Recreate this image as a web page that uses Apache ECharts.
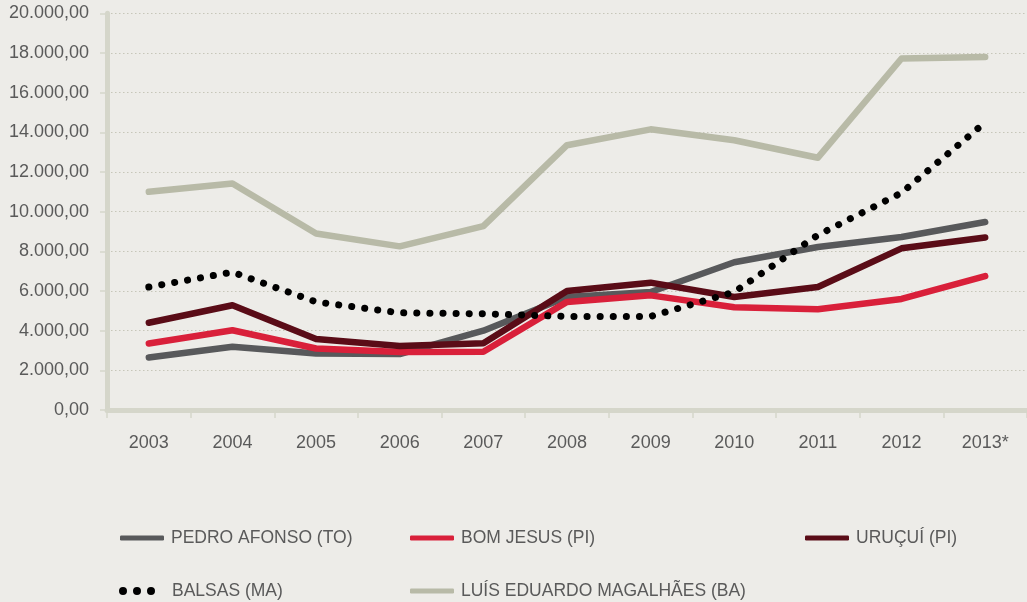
<!DOCTYPE html>
<html>
<head>
<meta charset="utf-8">
<script src="https://cdn.jsdelivr.net/npm/echarts@6/dist/echarts.min.js"></script>
<style>
html,body{margin:0;padding:0;background:#EDECE8;}
#chart{width:1027px;height:602px;}
</style>
</head>
<body>
<div id="chart"></div>
<script>
const categories = ['2003','2004','2005','2006','2007','2008','2009','2010','2011','2012','2013*'];
const pedroAfonso = [2650, 3190, 2850, 2820, 4000, 5700, 5950, 7450, 8220, 8720, 9480];
const bomJesus    = [3350, 4020, 3100, 2920, 2940, 5450, 5780, 5180, 5080, 5600, 6750];
const urucui      = [4400, 5280, 3580, 3230, 3360, 6000, 6420, 5700, 6200, 8150, 8700];
const balsas      = [6200, 6950, 5450, 4900, 4850, 4720, 4720, 5950, 8820, 10950, 14500];
const lem         = [11000, 11420, 8900, 8250, 9270, 13350, 14150, 13600, 12720, 17720, 17800];
const yTicks = { min: 0, max: 20000, interval: 2000 };

const seriesNames = ['PEDRO AFONSO (TO)','BOM JESUS (PI)','URUÇUÍ (PI)','BALSAS (MA)','LUÍS EDUARDO MAGALHÃES (BA)'];
const colors = ['#58595B','#D9203A','#5A0C17','#000000','#B8BAA7'];

function fmt(v){
  const s = Math.round(v).toString().replace(/\B(?=(\d{3})+(?!\d))/g,'.');
  return s + ',00';
}

const FONT = '"Liberation Sans", Arial, sans-serif';
const dotsPath = 'path://M0,4a4,4 0 1,0 8,0a4,4 0 1,0 -8,0Z M14,4a4,4 0 1,0 8,0a4,4 0 1,0 -8,0Z M28,4a4,4 0 1,0 8,0a4,4 0 1,0 -8,0Z';

function legendAt(name, left, top, icon, w, h, pad){
  return {
    data:[name], left:left, top:top, icon:icon, itemWidth:w, itemHeight:h, itemGap:0,
    padding:0,
    textStyle:{fontFamily:FONT, fontSize:17.5, color:'#5a5a5a', padding:[0,0,0,pad]},
    itemStyle:{borderWidth:0},
    selectedMode:false
  };
}

const chart = echarts.init(document.getElementById('chart'), null, {renderer:'canvas'});
const datasets = [pedroAfonso, bomJesus, urucui, balsas, lem];
const series = datasets.map((d,i)=>{
  const isDot = i===3;
  return {
    name: seriesNames[i],
    type:'line',
    data:d,
    symbol:'none',
    smooth:false,
    color: colors[i],
    lineStyle: isDot ? {width:7, color:colors[i], type:[0.1,13], cap:'round'} : {width:6.5, color:colors[i], cap:'round', join:'round'},
    z: isDot ? 4 : 2
  };
});

chart.setOption({
  backgroundColor:'#EDECE8',
  animation:false,
  grid:{left:107, right:0, top:13.3, bottom:192, containLabel:false},
  legend:[
    legendAt(seriesNames[0], 120, 529, 'roundRect', 44, 5, 2),
    legendAt(seriesNames[1], 410, 529, 'roundRect', 44, 5, 2),
    legendAt(seriesNames[2], 805, 529, 'roundRect', 44, 5, 2),
    legendAt(seriesNames[3], 119, 582, dotsPath, 36, 8, 12),
    legendAt(seriesNames[4], 410, 582, 'roundRect', 44, 5, 2)
  ],
  xAxis:{
    type:'category',
    data:categories,
    boundaryGap:true,
    axisLine:{lineStyle:{color:'#D5D6CA', width:5}},
    axisTick:{show:true, length:8, lineStyle:{color:'#D5D6CA', width:1.5}},
    axisLabel:{fontFamily:FONT, fontSize:18, color:'#5a5a5a', margin:24},
    splitLine:{show:false}
  },
  yAxis:{
    type:'value',
    min:yTicks.min, max:yTicks.max, interval:yTicks.interval,
    axisLine:{show:true, lineStyle:{color:'#D5D6CA', width:5}},
    axisTick:{show:true, length:7, lineStyle:{color:'#D5D6CA', width:1.5}},
    axisLabel:{fontFamily:FONT, fontSize:18, color:'#5a5a5a', margin:18, formatter:fmt},
    splitLine:{show:true, lineStyle:{color:'#C6C6B9', width:1, type:[1.5,2.5]}}
  },
  series: series
});
</script>
</body>
</html>
